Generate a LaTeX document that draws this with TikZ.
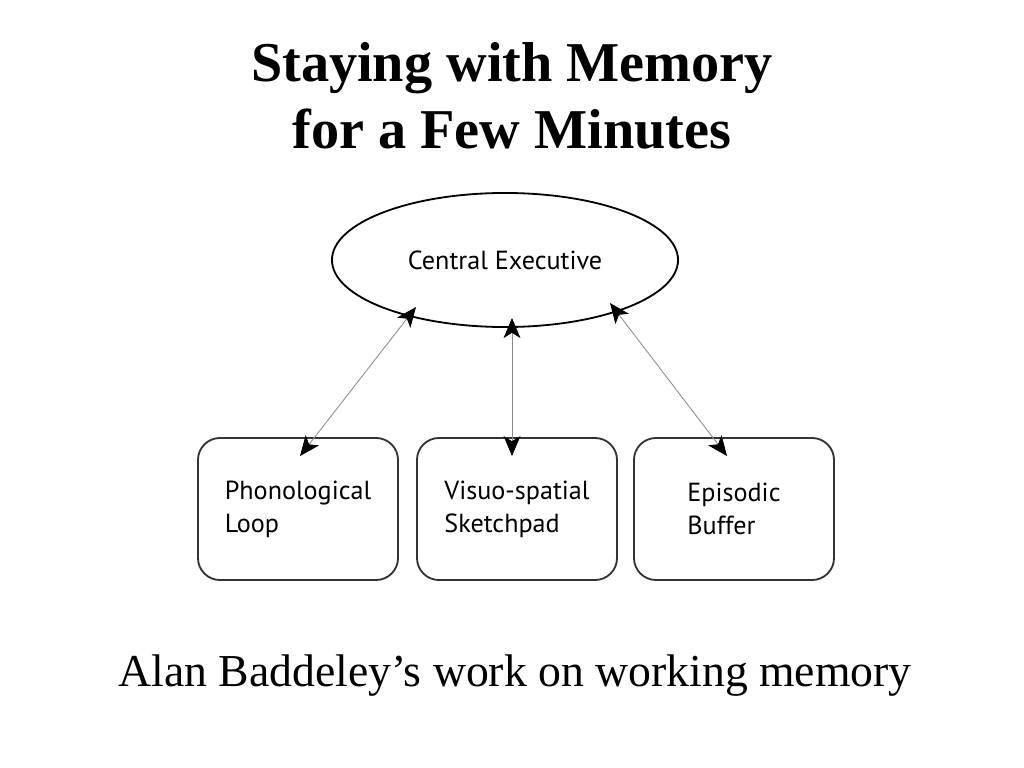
\documentclass[tikz,border=0pt]{standalone}
\usepackage{fontspec}
\setmainfont{Liberation Serif}
\newfontfamily\boxfont{PT Sans}
\usetikzlibrary{positioning, calc, arrows.meta, shapes.geometric}
\tikzset{>={Stealth[length=5mm, width=4.2mm, inset=1.3mm, black]}}
\tikzset{executive/.style={draw, ellipse, line width=1.3pt, minimum width=8.65cm, minimum height=3.35cm, inner sep=0pt}}
\tikzset{slave system/.style={draw=black!80, rounded corners=0.55cm, line width=1.3pt, align=left,
    minimum width=5cm, minimum height=3.55cm, inner sep=0pt, font=\boxfont\fontsize{18.6}{23.5}\selectfont}}
\tikzset{link/.style={<->, draw=black!45, line width=0.6pt}}

\begin{document}
\begin{tikzpicture}[x=0.025cm, y=-0.025cm]
    \useasboundingbox (0,0) rectangle (1024,768);

    \node[align=center, font=\bfseries\fontsize{40}{47.7}\selectfont] (title) at (512,96)
    {Staying with Memory \\ for a Few Minutes};

    \node[executive, font=\boxfont\fontsize{18.6}{22}\selectfont] (central-exec) at (505,260) {Central Executive};

    \node[slave system] (phon-loop) at (298,509) {Phonological \\ Loop};
    \node[slave system] (visuo-pad) at (517,509) {Visuo-spatial \\ Sketchpad};
    \node[slave system] (epi-buffer) at (734,509) {Episodic \\ Buffer};

    \coordinate (exec-l) at (416,307);
    \coordinate (exec-m) at (512,318);
    \coordinate (exec-r) at (610,303);
    \coordinate (loop-in) at ($(phon-loop.north)+(2,19)$);
    \coordinate (pad-in) at ($(visuo-pad.north)+(-5,19)$);
    \coordinate (buffer-in) at ($(epi-buffer.north)+(-7,19)$);

    \draw [link] (exec-l) to (loop-in);
    \draw [link] (exec-m) to (pad-in);
    \draw [link] (exec-r) to (buffer-in);

    \node[font=\fontsize{32.5}{38}\selectfont] (caption) at (515,676) {Alan Baddeley’s work on working memory};
  \end{tikzpicture}
\end{document}
